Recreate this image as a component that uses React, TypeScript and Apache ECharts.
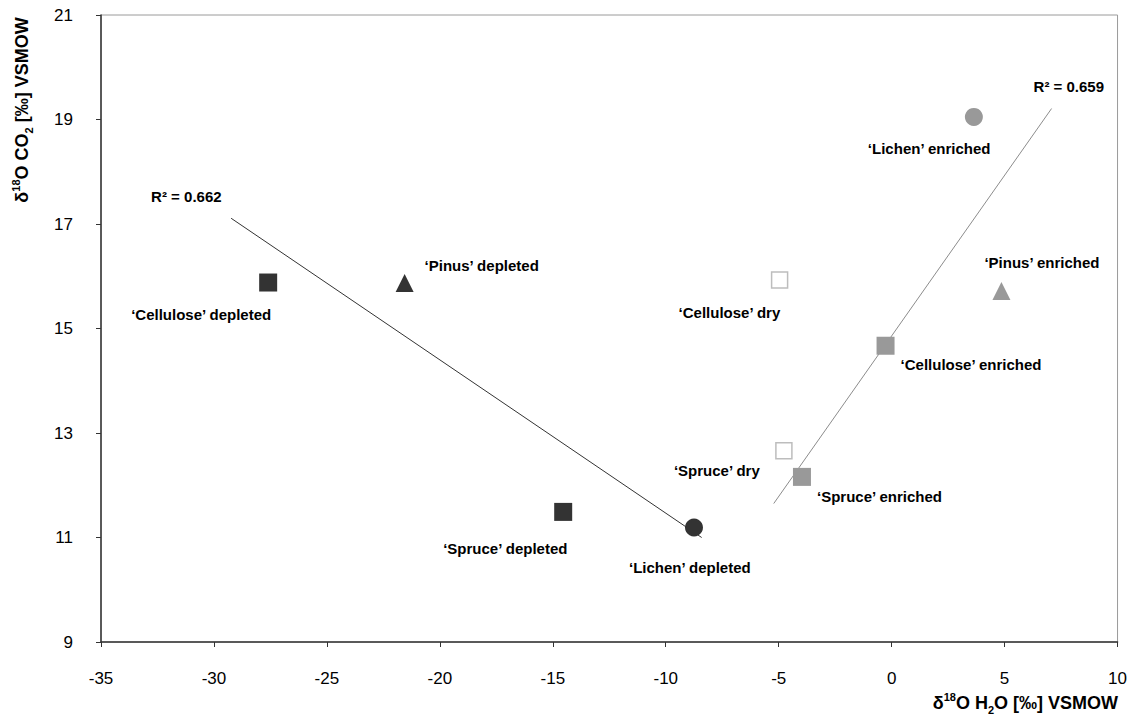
import React, { useEffect, useRef } from 'react';
import * as echarts from 'echarts';

// ---- data ----
const pointNames = [
  '‘Cellulose’ depleted',
  '‘Pinus’ depleted',
  '‘Spruce’ depleted',
  '‘Lichen’ depleted',
  '‘Cellulose’ dry',
  '‘Spruce’ dry',
  '‘Spruce’ enriched',
  '‘Cellulose’ enriched',
  '‘Lichen’ enriched',
  '‘Pinus’ enriched',
];
const sampleTypes = ['Cellulose', 'Pinus', 'Spruce', 'Lichen', 'Cellulose', 'Spruce', 'Spruce', 'Cellulose', 'Lichen', 'Pinus'];
const treatments = ['depleted', 'depleted', 'depleted', 'depleted', 'dry', 'dry', 'enriched', 'enriched', 'enriched', 'enriched'];
const h2oValues = [-27.6, -21.56, -14.54, -8.75, -4.96, -4.77, -3.97, -0.27, 3.64, 4.86];
const co2Values = [15.88, 15.87, 11.49, 11.19, 15.93, 12.66, 12.16, 14.67, 19.05, 15.72];

const depletedTrendX = [-29.24, -8.41];
const depletedTrendY = [17.11, 11.0];
const enrichedTrendX = [-5.22, 7.08];
const enrichedTrendY = [11.65, 19.21];
const r2Labels = ['R² = 0.662', 'R² = 0.659'];

const xTicks = [-35, -30, -25, -20, -15, -10, -5, 0, 5, 10];
const yTicks = [9, 11, 13, 15, 17, 19, 21];

// ---- layout / style (not data) ----
const labelOffsets = [
  [-137, 32], [20, -18], [-120, 37], [-65, 40], [-101, 33],
  [-110, 20], [15, 20], [15, 19], [-106, 32], [-17, -28],
];
const FONT = '"Liberation Sans", Arial, Helvetica, sans-serif';
const DARK = '#333333';
const GREY = '#999999';
const symbolFor: Record<string, string> = { Cellulose: 'rect', Spruce: 'rect', Pinus: 'triangle', Lichen: 'circle' };

const richName = {
  n: { fontSize: 18, fontWeight: 'bold', fontFamily: FONT, fill: '#000', lineHeight: 24 },
  sup: { fontSize: 11, fontWeight: 'bold', fontFamily: FONT, fill: '#000', lineHeight: 15, verticalAlign: 'top' },
  sub: { fontSize: 11, fontWeight: 'bold', fontFamily: FONT, fill: '#000', lineHeight: 13, verticalAlign: 'bottom' },
};

const pointLabelStyle = { color: '#000', fontSize: 15, fontWeight: 'bold', fontFamily: FONT };

export default function App() {
  const ref = useRef<HTMLDivElement>(null);
  useEffect(() => {
    if (!ref.current) return;
    const chart = echarts.init(ref.current, undefined, { renderer: 'svg' });

    const scatterData = pointNames.map((name, i) => {
      const t = treatments[i];
      const itemStyle =
        t === 'depleted'
          ? { color: DARK, opacity: 1 }
          : t === 'dry'
          ? { color: '#ffffff', borderColor: '#bdbdbd', borderWidth: 1.5, opacity: 1 }
          : { color: GREY, opacity: 1 };
      return {
        name,
        value: [h2oValues[i], co2Values[i]],
        symbol: symbolFor[sampleTypes[i]],
        symbolSize: t === 'dry' ? 16 : 18,
        itemStyle,
        label: {
          show: true,
          formatter: name,
          position: 'inside',
          align: 'left',
          verticalAlign: 'middle',
          offset: labelOffsets[i],
          ...pointLabelStyle,
        },
      };
    });

    const trend = (xs: number[], ys: number[], color: string, labelIdx: number, labelText: string, off: number[]) => ({
      type: 'line',
      silent: true,
      z: 1,
      symbol: 'circle',
      symbolSize: 0.1,
      showSymbol: true,
      itemStyle: { color: 'rgba(0,0,0,0)' },
      lineStyle: { color, width: 1 },
      data: xs.map((x, i) => ({
        value: [x, ys[i]],
        label: {
          show: i === labelIdx,
          formatter: labelText,
          position: 'inside',
          align: 'left',
          verticalAlign: 'middle',
          offset: off,
          ...pointLabelStyle,
        },
      })),
    });

    chart.setOption({
      animation: false,
      backgroundColor: '#ffffff',
      grid: { left: 101, right: 8, top: 15, bottom: 78, show: true, borderColor: '#9a9a9a', borderWidth: 1 },
      xAxis: {
        type: 'value',
        min: -35,
        max: 10,
        interval: 5,
        splitLine: { show: false },
        axisLine: { show: true, onZero: false, lineStyle: { color: '#333', width: 1.5 } },
        axisTick: { show: true, length: 5, customValues: xTicks, lineStyle: { color: '#333', width: 1 } },
        axisLabel: { customValues: xTicks, margin: 28, color: '#000', fontSize: 17, fontFamily: FONT },
      },
      yAxis: {
        type: 'value',
        min: 9,
        max: 21,
        splitLine: { show: false },
        axisLine: { show: true, onZero: false, lineStyle: { color: '#333', width: 1.5 } },
        axisTick: { show: true, length: 5, customValues: yTicks, lineStyle: { color: '#333', width: 1 } },
        axisLabel: { customValues: yTicks, margin: 28, color: '#000', fontSize: 17, fontFamily: FONT },
      },
      series: [
        trend(depletedTrendX, depletedTrendY, '#333', 0, r2Labels[0], [-80, -22]),
        trend(enrichedTrendX, enrichedTrendY, '#8c8c8c', 1, r2Labels[1], [-18, -22]),
        {
          type: 'scatter',
          z: 3,
          data: scatterData,
        },
      ],
      graphic: [
        {
          type: 'text',
          x: 1118,
          y: 703,
          style: {
            text: '{n|δ}{sup|18}{n|O H}{sub|2}{n|O [‰] VSMOW}',
            rich: richName,
            align: 'right',
            verticalAlign: 'middle',
          },
        },
        {
          type: 'text',
          x: 22,
          y: 110,
          rotation: Math.PI / 2,
          style: {
            text: '{n|δ}{sup|18}{n|O CO}{sub|2}{n| [‰] VSMOW}',
            rich: richName,
            align: 'center',
            verticalAlign: 'middle',
          },
        },
      ],
    });
    return () => chart.dispose();
  }, []);
  return (
    <div
      ref={ref}
      style={{ position: 'fixed', left: 0, top: 0, width: 1130, height: 720, background: '#fff' }}
    />
  );
}
